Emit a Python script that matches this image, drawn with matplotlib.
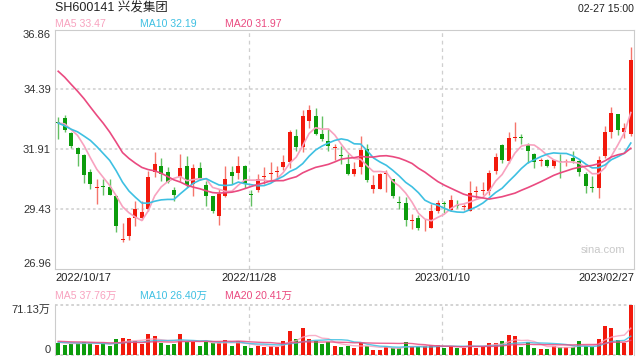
import numpy as np
import pandas as pd
import matplotlib
matplotlib.use('Agg')
from matplotlib import pyplot as plt

plt.rcParams['font.family'] = ['Liberation Sans', 'Noto Sans CJK SC', 'DejaVu Sans']

# trading days (SSE closed on these weekdays)
holidays = ['2023-01-02', '2023-01-23', '2023-01-24', '2023-01-25',
            '2023-01-26', '2023-01-27']
dates = pd.bdate_range('2022-10-17', '2023-02-27')
dates = dates[~dates.isin(pd.to_datetime(holidays))]

open_ = [33.05, 33.21, 32.58, 31.97, 31.68, 30.98, 30.32, 30.40, 30.36, 29.99,
         28.18, 28.34, 29.07, 29.08, 29.44, 30.98, 31.24, 30.99, 30.21, 30.77,
         31.23, 30.46, 31.14, 30.44, 29.99, 29.16, 29.97, 30.98, 30.95, 31.23,
         30.06, 30.21, 30.76, 30.90, 30.98, 31.17, 31.37, 32.47, 32.01, 33.10,
         33.29, 32.55, 32.25, 31.97, 31.68, 31.31, 30.90, 31.20, 31.92, 30.29,
         30.29, 30.91, 30.68, 29.73, 29.68, 28.95, 29.07, 28.76, 28.67, 29.38,
         29.71, 29.40, 29.62, 29.52, 29.38, 30.14, 30.17, 30.18, 31.01, 32.07,
         31.42, 32.38, 32.44, 32.08, 31.70, 31.43, 31.48, 31.21, 31.43, 31.38,
         31.56, 31.42, 30.91, 30.35, 30.32, 31.63, 32.62, 33.38, 32.63, 32.55]
high = [33.24, 33.32, 32.63, 32.00, 31.72, 31.09, 30.69, 30.70, 30.70, 30.02,
        28.86, 29.11, 29.77, 29.77, 31.01, 31.82, 31.56, 31.20, 30.37, 31.72,
        31.65, 31.31, 31.38, 30.62, 30.00, 30.25, 31.23, 31.21, 31.65, 31.26,
        30.24, 30.87, 31.20, 31.39, 31.23, 31.67, 32.73, 32.74, 33.54, 33.76,
        33.62, 33.28, 32.74, 32.14, 32.04, 31.70, 31.39, 32.45, 32.14, 30.86,
        30.92, 31.06, 30.70, 29.97, 29.93, 29.22, 29.19, 29.01, 29.63, 29.80,
        29.77, 30.04, 29.80, 29.63, 30.59, 30.39, 30.57, 31.04, 31.74, 32.14,
        32.63, 33.03, 32.55, 32.18, 31.77, 31.56, 31.53, 31.49, 31.72, 31.53,
        31.83, 31.49, 30.98, 30.80, 31.63, 32.87, 33.67, 33.38, 33.00, 36.14]
low = [32.32, 32.63, 31.97, 31.21, 30.51, 30.29, 29.63, 30.04, 30.02, 28.51,
       28.06, 28.16, 28.73, 28.97, 29.35, 30.76, 30.59, 30.51, 29.77, 30.59,
       30.35, 29.97, 30.66, 29.56, 29.27, 28.80, 29.93, 30.46, 30.70, 30.32,
       29.56, 30.15, 30.46, 30.65, 30.66, 31.06, 31.14, 31.83, 31.81, 32.80,
       32.50, 32.27, 31.86, 31.49, 31.31, 30.84, 30.79, 30.90, 30.54, 30.10,
       30.26, 30.13, 29.91, 29.45, 28.73, 28.60, 28.56, 28.53, 28.64, 29.29,
       29.27, 29.35, 29.48, 29.42, 29.37, 29.91, 30.04, 30.04, 30.87, 31.35,
       31.35, 32.25, 32.14, 31.35, 31.14, 31.21, 31.17, 31.14, 30.73, 31.21,
       31.35, 30.80, 30.11, 30.15, 29.91, 31.56, 32.38, 32.52, 32.38, 32.45]
close = [33.02, 32.73, 32.03, 31.70, 30.86, 30.48, 30.35, 30.35, 30.04, 28.75,
         28.21, 29.08, 29.45, 29.33, 30.77, 31.31, 30.91, 30.54, 30.04, 31.14,
         30.43, 31.14, 30.73, 29.99, 29.38, 30.06, 30.68, 30.79, 31.23, 30.46,
         30.02, 30.70, 30.79, 30.92, 31.01, 31.37, 32.63, 32.00, 33.29, 33.54,
         32.56, 32.34, 32.05, 32.01, 31.64, 30.87, 31.10, 31.89, 30.65, 30.44,
         30.90, 30.95, 29.99, 29.68, 29.00, 29.00, 28.65, 28.79, 29.34, 29.70,
         29.64, 29.81, 29.56, 29.55, 30.11, 30.17, 30.19, 30.94, 31.59, 31.45,
         32.38, 32.43, 32.38, 31.86, 31.38, 31.46, 31.24, 31.46, 31.39, 31.41,
         31.42, 30.98, 30.39, 30.30, 31.45, 32.63, 33.42, 32.69, 32.80, 35.62]
# volume in 万 shares
volume = [16.6, 14.2, 15.6, 16.6, 17.5, 16.1, 14.2, 16.1, 12.3, 22.3,
          23.7, 22.3, 19.0, 15.2, 29.4, 26.5, 16.1, 14.2, 15.2, 29.9,
          18.5, 18.5, 12.8, 18.5, 16.6, 16.1, 20.9, 12.8, 19.0, 12.8,
          10.0, 12.8, 11.4, 12.8, 11.4, 19.4, 34.1, 22.0, 38.2, 22.5,
          19.9, 15.2, 18.2, 12.5, 10.9, 12.3, 9.5, 17.0, 12.6, 6.8,
          6.8, 11.4, 9.8, 9.5, 18.0, 10.4, 11.9, 12.3, 13.7, 13.3,
          9.5, 12.3, 9.5, 9.5, 19.4, 9.5, 11.4, 16.6, 16.6, 19.4,
          27.5, 26.0, 11.5, 18.5, 10.2, 8.8, 8.8, 12.0, 10.6, 10.8,
          10.5, 19.0, 13.0, 10.5, 21.7, 41.5, 38.5, 21.5, 16.2, 71.13]

# sessions before 2022/10/17, only feed the moving averages
pre_close = [37.6, 37.9, 37.4, 37.0, 37.5, 37.2, 36.9, 37.3, 37.1, 36.9,
             33.9, 33.4, 32.8, 32.6, 32.3, 32.9, 33.2, 32.9, 32.97]
pre_volume = [21.0, 24.5, 19.8, 18.2, 23.0, 20.4, 17.9, 22.6, 19.5, 16.8,
              18.9, 17.6, 20.8, 16.9, 15.8, 18.1, 19.7, 17.2, 16.4]

price_ticks = [26.96, 29.43, 31.91, 34.39, 36.86]
vol_top = 71.13
title = 'SH600141 兴发集团'
stamp = '02-27 15:00'
ma_text = ['MA5 33.47', 'MA10 32.19', 'MA20 31.97']
vol_ma_text = ['MA5 37.76万', 'MA10 26.40万', 'MA20 20.41万']

RED = '#f2190c'
GREEN = '#0c9c0c'
RED_W = '#f5756b'
GREEN_W = '#62c062'
MA_COL = ['#f8a2bf', '#3ec0e2', '#ea4a80']

o = np.array(open_)
c = np.array(close)
n = len(c)
x = np.arange(n)
up = c >= o
col = np.where(up, RED, GREEN)
wcol = np.where(up, RED_W, GREEN_W)

cs = pd.Series(pre_close + close)
vs = pd.Series(pre_volume + volume)
ma = [cs.rolling(k).mean().values[-n:] for k in (5, 10, 20)]
vma = [vs.rolling(k).mean().values[-n:] for k in (5, 10, 20)]

W, H = 640, 360
fig = plt.figure(figsize=(6.4, 3.6), dpi=100)
ax = fig.add_axes([55 / W, 1 - 269 / H, 579 / W, 239.3 / H])
axv = fig.add_axes([55 / W, 1 - 354.7 / H, 579 / W, 50 / H])

# candles
ax.vlines(x, low, high, colors=wcol, lw=1, zorder=2)
body = np.maximum(np.abs(c - o), 0.04)
ax.bar(x, body, bottom=np.minimum(o, c), width=0.62, color=col, zorder=3)
for m, cl in zip(ma, MA_COL):
    ax.plot(x, m, color=cl, lw=1.2, zorder=4)

for v in price_ticks[1:-1]:
    ax.axhline(v, color='#d6d6d6', lw=1.3, ls=(0, (1.5, 1.5)), zorder=0)

ax.set_xlim(-0.5, n - 0.5)
ax.set_ylim(price_ticks[0], price_ticks[-1])
ax.set_xticks([])
ax.set_yticks(price_ticks)
ax.set_yticklabels(['%.2f' % t for t in price_ticks])
ax.tick_params(axis='y', length=0, pad=3, labelsize=8, labelcolor='#333333')
labs = ax.get_yticklabels()
labs[0].set_va('bottom')
labs[-1].set_va('top')
for s in ax.spines.values():
    s.set_color('#cccccc')

# volume
axv.bar(x, volume, width=0.62, color=col, zorder=3)
for m, cl in zip(vma, MA_COL):
    axv.plot(x, m, color=cl, lw=1, alpha=0.85, zorder=4)
axv.set_xlim(-0.5, n - 0.5)
axv.set_ylim(0, vol_top)
axv.axhline(vol_top, color='#d0d0d0', lw=1.3, ls=(0, (1.5, 1.5)), clip_on=False)
axv.axhline(0, color='#d0d0d0', lw=1.3, ls=(0, (1.5, 1.5)), clip_on=False)
axv.set_xticks([])
axv.set_yticks([0, vol_top])
axv.set_yticklabels(['0', '%.2f万' % vol_top])
axv.tick_params(axis='y', length=0, pad=3, labelsize=8, labelcolor='#333333')
vl = axv.get_yticklabels()
vl[0].set_va('bottom')
vl[1].set_va('top')
axv.spines['top'].set_visible(False)
axv.spines['bottom'].set_visible(False)
for k in ('left', 'right'):
    axv.spines[k].set_color('#cccccc')

# date marks
marks = [30, 60]
for i in marks:
    for a in (ax, axv):
        a.axvline(i - 0.3, color='#cfcfcf', lw=0.9, ls=(0, (3, 3)), zorder=0)

tr = ax.get_xaxis_transform()
ax.text(-0.5, -0.037, dates[0].strftime('%Y/%m/%d'), transform=tr,
        ha='left', va='center', fontsize=8, color='#222222')
for i in marks:
    ax.text(i - 0.3, -0.037, dates[i].strftime('%Y/%m/%d'), transform=tr,
            ha='center', va='center', fontsize=8, color='#222222')
ax.text(n - 0.5, -0.037, dates[-1].strftime('%Y/%m/%d'), transform=tr,
        ha='right', va='center', fontsize=8, color='#222222')

ax.text(0.985, 0.08, 'sina.com', transform=ax.transAxes, ha='right',
        va='center', fontsize=8, color='#c8c8c8')

# header texts
fig.text(55 / W, 1 - 8 / H, title, ha='left', va='center', fontsize=9,
         color='#222222')
fig.text(634 / W, 1 - 9.5 / H, stamp, ha='right', va='center', fontsize=7.6,
         color='#222222')
for t, px, cl in zip(ma_text, (55, 140, 225), MA_COL):
    fig.text(px / W, 1 - 24 / H, t, ha='left', va='center', fontsize=7.6,
             color=cl)
for t, px, cl in zip(vol_ma_text, (55, 140, 225), MA_COL):
    fig.text(px / W, 1 - 295.5 / H, t, ha='left', va='center', fontsize=7.6,
             color=cl)

fig.savefig('out.png', dpi=100, facecolor='white')
